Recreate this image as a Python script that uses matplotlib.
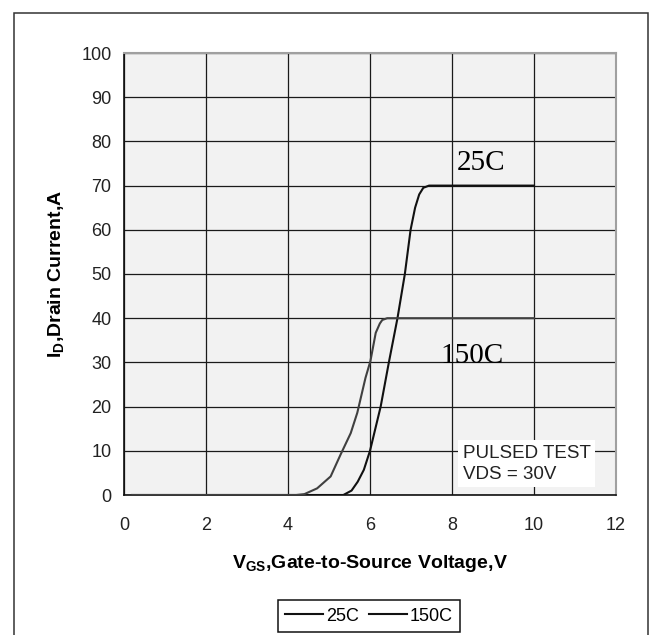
import matplotlib
matplotlib.use("Agg")
import matplotlib.pyplot as plt
from matplotlib.patches import Rectangle

# 数据 (读自参考图)
vgs_25 = [0.2, 5.0, 5.35, 5.55, 5.7, 5.85, 6.0, 6.13, 6.26, 6.46, 6.67, 6.85, 6.99, 7.1, 7.2, 7.3, 7.44, 10.0]
id_25 = [0, 0, 0, 1.0, 3.0, 5.7, 10, 15, 20, 30, 40, 50, 60, 65, 68, 69.5, 70, 70]
vgs_150 = [0.2, 4.2, 4.4, 4.71, 5.04, 5.28, 5.53, 5.69, 5.89, 6.01, 6.14, 6.24, 6.30, 6.42, 10.0]
id_150 = [0, 0, 0.2, 1.5, 4.2, 9.1, 14, 18.6, 26.5, 30.3, 36.7, 38.8, 39.6, 40, 40]
x_ticks = [0, 2, 4, 6, 8, 10, 12]
y_ticks = [0, 10, 20, 30, 40, 50, 60, 70, 80, 90, 100]
series_names = ["25C", "150C"]

plt.rcParams['font.family'] = ['Liberation Sans', 'DejaVu Sans']

fig = plt.figure(figsize=(6.49, 6.35), dpi=100)
ax = fig.add_axes([124 / 649, 1 - 495 / 635, 492 / 649, 442 / 635])
ax.set_facecolor('#f2f2f2')

# 外框
fig.patches.append(Rectangle((14 / 649, -0.05), 634 / 649, 1 - 13 / 635 + 0.05,
                             transform=fig.transFigure, fill=False,
                             edgecolor='#333333', linewidth=1.1))

ax.plot(vgs_25, id_25, color='#111111', linewidth=1.5, label=series_names[0], zorder=3)
ax.plot(vgs_150, id_150, color='#404040', linewidth=1.5, label=series_names[1], zorder=3)

ax.set_xlim(0, 12)
ax.set_ylim(0, 100)
ax.set_xticks(x_ticks)
ax.set_yticks(y_ticks)
ax.grid(True, color='#1a1a1a', linewidth=0.9)
ax.set_axisbelow(True)
ax.tick_params(length=0, labelsize=13, colors='#222222')
ax.tick_params(axis='x', pad=16)
ax.tick_params(axis='y', pad=9)

for side in ['left', 'bottom']:
    ax.spines[side].set_color('#111111')
    ax.spines[side].set_linewidth(1.2)
for side in ['top', 'right']:
    ax.spines[side].set_color('#a0a0a0')
    ax.spines[side].set_linewidth(1.5)

ax.set_xlabel(r'V$_{\mathregular{GS}}$,Gate-to-Source Voltage,V', fontsize=14, fontweight='bold')
ax.xaxis.set_label_coords(0.5, -0.156)
ax.xaxis.label.set_va('center')
ax.set_ylabel(r'I$_{\mathregular{D}}$,Drain Current,A', fontsize=14, fontweight='bold')
ax.yaxis.set_label_coords(-0.136, 0.5)
ax.yaxis.label.set_va('center')

ax.text(8.72, 75.2, '25C', fontsize=21, family='Liberation Serif', ha='center', va='center')
ax.text(8.5, 31.4, '150C', fontsize=21, family='Liberation Serif', ha='center', va='center')
ax.text(8.26, 7.1, 'PULSED TEST\nVDS = 30V', fontsize=13.5, ha='left', va='center',
        linespacing=1.3, color='#222222',
        bbox=dict(facecolor='white', edgecolor='none', boxstyle='square,pad=0.25'))

leg = ax.legend(loc='center', bbox_to_anchor=(0.498, -0.274), ncol=2, fontsize=13,
                frameon=True, fancybox=False, edgecolor='#111111', framealpha=1,
                handlelength=2.1, handletextpad=0.15, columnspacing=0.6,
                borderpad=0.4, borderaxespad=0)
leg.get_frame().set_linewidth(1.1)
for h in leg.get_lines():
    h.set_color('#111111')

fig.savefig('out.png', dpi=100)
